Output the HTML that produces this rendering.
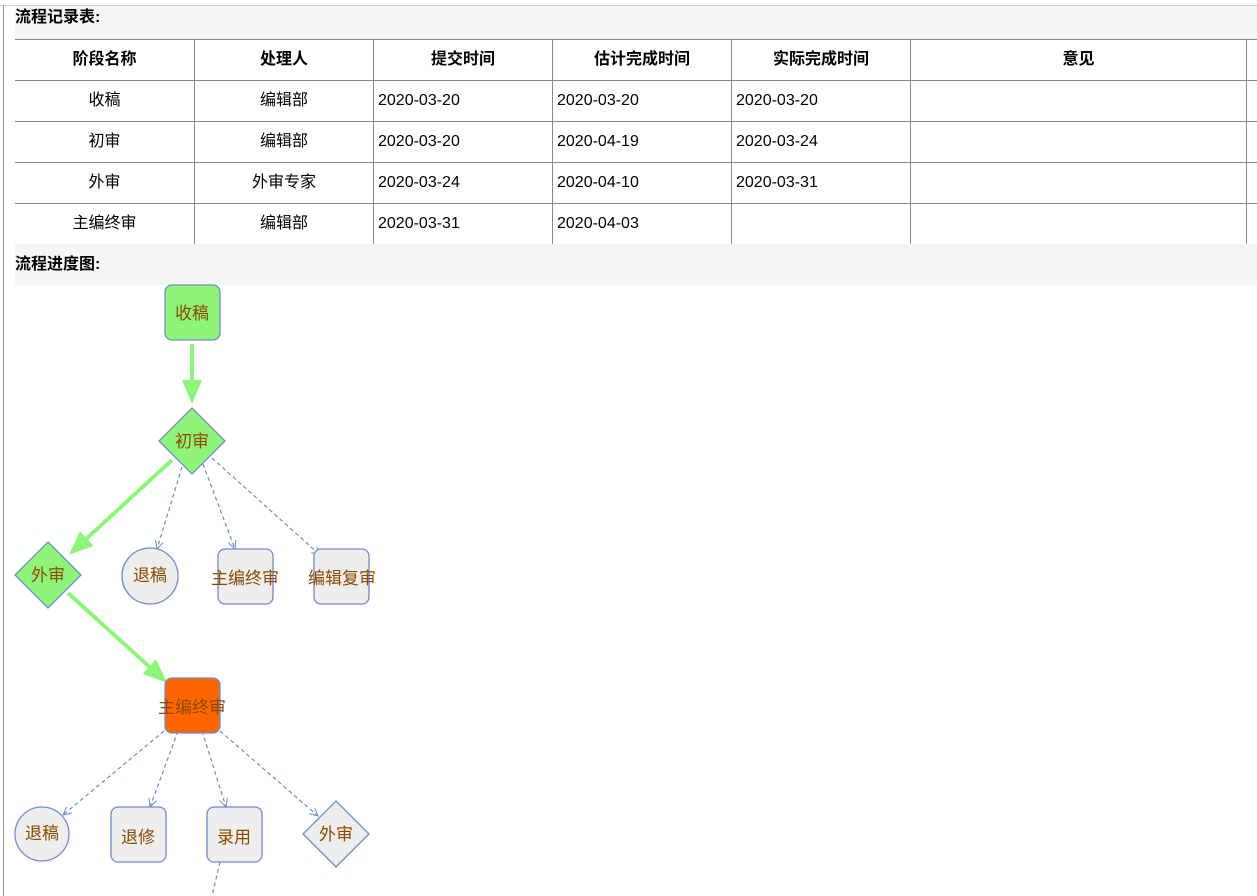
<!DOCTYPE html>
<html><head><meta charset="utf-8"><style>
body{margin:0;width:1257px;height:896px;overflow:hidden;background:#fff;font-family:"Liberation Sans","Noto Sans CJK SC",sans-serif;position:relative}
.band{position:absolute;left:15px;width:1242px;background:#f5f5f5;font-weight:bold;font-size:16px;color:#000}
table{position:absolute;left:15px;top:39px;border-collapse:collapse;font-size:16px;color:#000;table-layout:fixed}
td,th{height:40px;border:1px solid #888;padding:0;border-left:none;line-height:18px;vertical-align:middle}
td:first-child,th:first-child{border-left:none}
th{font-weight:bold;text-align:center}
td{text-align:left;padding-left:4px}
td.c{text-align:center;padding-left:0}
</style></head><body>
<div style="position:absolute;left:0;top:5px;width:1257px;height:1px;background:#ccc"></div>
<div style="position:absolute;left:3px;top:5px;width:1px;height:891px;background:#999"></div>
<div class="band" style="top:6px;height:33px;line-height:24px">流程记录表:</div>
<table>
<tr><th style="width:179px">阶段名称</th><th style="width:178px">处理人</th><th style="width:178px">提交时间</th><th style="width:178px">估计完成时间</th><th style="width:178px">实际完成时间</th><th style="width:335px">意见</th><th style="width:10px;border-right:none"></th></tr>
<tr><td class="c">收稿</td><td class="c">编辑部</td><td>2020-03-20</td><td>2020-03-20</td><td>2020-03-20</td><td></td><td style="border-right:none"></td></tr>
<tr><td class="c">初审</td><td class="c">编辑部</td><td>2020-03-20</td><td>2020-04-19</td><td>2020-03-24</td><td></td><td style="border-right:none"></td></tr>
<tr><td class="c">外审</td><td class="c">外审专家</td><td>2020-03-24</td><td>2020-04-10</td><td>2020-03-31</td><td></td><td style="border-right:none"></td></tr>
<tr><td class="c" style="border-bottom:none">主编终审</td><td class="c" style="border-bottom:none">编辑部</td><td style="border-bottom:none">2020-03-31</td><td style="border-bottom:none">2020-04-03</td><td style="border-bottom:none"></td><td style="border-bottom:none"></td><td style="border:none"></td></tr>
</table>
<div class="band" style="top:244px;height:41px;line-height:42px">流程进度图:</div>
<svg style="position:absolute;left:0;top:0" width="1257" height="896" font-family="Liberation Sans,Noto Sans CJK SC,sans-serif" font-size="17">
<defs>
<marker id="g" markerWidth="6" markerHeight="6" refX="5" refY="3" orient="auto" markerUnits="strokeWidth"><path d="M0,0.5L6,3L0,5.5z" fill="#8ef57a"/></marker>
<marker id="b" markerWidth="10" markerHeight="10" refX="9" refY="5" orient="auto" markerUnits="userSpaceOnUse"><path d="M1,1L9,5L1,9" fill="none" stroke="#6f8ccc" stroke-width="1"/></marker>
</defs>
<g stroke="#8ef57a" stroke-width="4" fill="none">
<line x1="192" y1="344" x2="192" y2="400" marker-end="url(#g)"/>
<line x1="172" y1="460" x2="72" y2="552" marker-end="url(#g)"/>
<line x1="68" y1="593" x2="164" y2="680" marker-end="url(#g)"/>
</g>
<g stroke="#6f8ccc" stroke-width="1.2" fill="none" stroke-dasharray="4,3">
<line x1="182" y1="467" x2="157" y2="549" marker-end="url(#b)"/>
<line x1="203" y1="464" x2="235" y2="549" marker-end="url(#b)"/>
<line x1="212" y1="458" x2="320" y2="555" marker-end="url(#b)"/>
<line x1="164" y1="731" x2="63" y2="815" marker-end="url(#b)"/>
<line x1="178" y1="731" x2="150" y2="807" marker-end="url(#b)"/>
<line x1="202" y1="731" x2="226" y2="807" marker-end="url(#b)"/>
<line x1="220" y1="731" x2="318" y2="816" marker-end="url(#b)"/>
<line x1="220" y1="862" x2="212" y2="896"/>
</g>
<g stroke="#6f8ccc" stroke-width="1.3">
<rect x="165" y="285" width="55" height="55" rx="7" fill="#8ef57a"/>
<polygon points="192,408 225,441 192,474 159,441" fill="#8ef57a"/>
<polygon points="48,542 81,575 48,608 15,575" fill="#8ef57a"/>
<circle cx="150" cy="576" r="28" fill="#eeeeee"/>
<rect x="218" y="549" width="55" height="55" rx="7" fill="#eeeeee"/>
<rect x="314" y="549" width="55" height="55" rx="7" fill="#eeeeee"/>
<rect x="165" y="678" width="55" height="55" rx="7" fill="#ff6600"/>
<circle cx="42" cy="834" r="27" fill="#eeeeee"/>
<rect x="111" y="807" width="55" height="55" rx="7" fill="#eeeeee"/>
<rect x="207" y="807" width="55" height="55" rx="7" fill="#eeeeee"/>
<polygon points="336,801 369,834 336,867 303,834" fill="#eeeeee"/>
</g>
<g fill="#8b4a00" text-anchor="middle">
<text x="192" y="319">收稿</text>
<text x="192" y="447">初审</text>
<text x="48" y="581">外审</text>
<text x="150" y="581">退稿</text>
<text x="245" y="584">主编终审</text>
<text x="342" y="584">编辑复审</text>
<text x="192" y="713">主编终审</text>
<text x="42" y="839">退稿</text>
<text x="138" y="843">退修</text>
<text x="234" y="843">录用</text>
<text x="336" y="840">外审</text>
</g>
</svg>
</body></html>
